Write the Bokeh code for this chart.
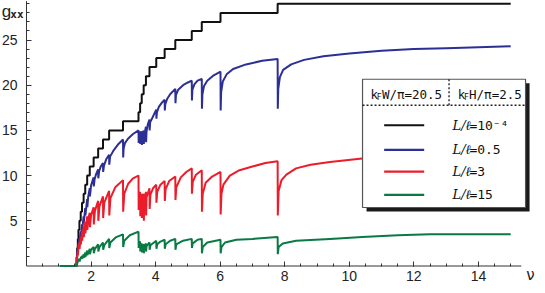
from bokeh.plotting import figure
from bokeh.models import FixedTicker, Label, Range1d
from bokeh.core.properties import value
from bokeh.embed import file_html
from bokeh.resources import INLINE

# ---------------- data ----------------
nu_black = [1.04, 1.55, 1.57, 1.59, 1.61, 1.64, 1.68, 1.72, 1.77, 1.82, 1.88,
            1.96, 2.08, 2.22, 2.37, 2.56, 2.99, 3.47, 3.52, 3.57, 3.63, 3.70,
            3.81, 4.02, 4.28, 4.61, 5.12, 5.43, 6.01, 7.78, 15.0]
g_black = [0, 1, 2, 3, 4, 5, 6, 7, 8, 9, 10,
           11, 12, 13, 14, 15, 16, 17, 18, 19, 20, 21,
           22, 23, 24, 25, 26, 27, 28, 29, 29]

nu_blue = [1.04, 1.55, 1.57, 1.59, 1.61, 1.615, 1.64, 1.645, 1.68, 1.685,
           1.72, 1.725, 1.77, 1.775, 1.82, 1.825, 1.88, 1.885, 1.91, 1.96,
           1.965, 2.00, 2.08, 2.085, 2.11, 2.16, 2.22, 2.225, 2.25, 2.30,
           2.37, 2.375, 2.40, 2.47, 2.56, 2.565, 2.59, 2.70, 2.85, 2.99,
           2.995, 3.01, 3.05, 3.15, 3.30, 3.47, 3.475, 3.49, 3.52, 3.525,
           3.54, 3.57, 3.575, 3.59, 3.63, 3.635, 3.65, 3.70, 3.705, 3.72,
           3.76, 3.81, 3.815, 3.83, 3.90, 4.02, 4.025, 4.04, 4.10, 4.20,
           4.28, 4.285, 4.30, 4.36, 4.45, 4.61, 4.615, 4.63, 4.70, 4.85,
           5.00, 5.12, 5.125, 5.14, 5.20, 5.30, 5.43, 5.435, 5.45, 5.50,
           5.60, 5.80, 6.01, 6.015, 6.03, 6.08, 6.20, 6.40, 6.80, 7.30,
           7.78, 7.785, 7.80, 7.85, 7.95, 8.20, 8.60, 9.20, 10.0, 11.0,
           12.0, 13.0, 14.0, 15.0]
g_blue = [0, 0, 1.3, 2.0, 2.6, 2.2, 3.1, 2.7, 3.8, 3.3,
          4.6, 4.0, 5.5, 4.8, 6.4, 5.6, 7.4, 6.5, 7.6, 8.6,
          7.7, 8.9, 9.8, 8.8, 9.6, 10.2, 10.7, 9.7, 10.5, 11.0,
          11.4, 10.4, 11.1, 11.8, 12.3, 11.2, 12.1, 12.8, 13.5, 14.0,
          12.0, 13.0, 13.6, 14.1, 14.6, 15.0, 13.6, 14.5, 14.9, 13.5,
          14.4, 14.9, 13.4, 14.4, 15.0, 13.5, 14.5, 15.4, 13.7, 14.9,
          15.7, 16.2, 15.0, 15.9, 16.4, 17.3, 16.3, 17.0, 17.6, 18.1,
          18.4, 17.2, 17.9, 18.5, 19.0, 19.6, 18.0, 18.9, 19.5, 20.0,
          20.3, 20.5, 18.3, 19.5, 20.1, 20.5, 20.7, 17.4, 19.0, 19.9,
          20.5, 21.1, 21.5, 17.2, 19.2, 20.4, 21.2, 21.8, 22.3, 22.7,
          22.9, 17.4, 19.6, 20.9, 21.7, 22.3, 22.8, 23.2, 23.5, 23.8,
          24.0, 24.1, 24.2, 24.3]

nu_red = [1.04, 1.55, 1.57, 1.59, 1.595, 1.61, 1.64, 1.645, 1.68, 1.685,
          1.72, 1.725, 1.77, 1.775, 1.82, 1.825, 1.88, 1.885, 1.92, 1.96,
          1.965, 2.00, 2.08, 2.085, 2.12, 2.22, 2.225, 2.26, 2.37, 2.375,
          2.41, 2.56, 2.565, 2.60, 2.75, 2.99, 2.995, 3.03, 3.15, 3.30,
          3.47, 3.475, 3.49, 3.52, 3.525, 3.54, 3.57, 3.575, 3.59, 3.63,
          3.635, 3.65, 3.70, 3.705, 3.72, 3.81, 3.815, 3.84, 3.92, 4.02,
          4.025, 4.05, 4.15, 4.28, 4.285, 4.31, 4.42, 4.61, 4.615, 4.64,
          4.78, 4.95, 5.12, 5.125, 5.15, 5.25, 5.43, 5.435, 5.46, 5.55,
          5.75, 6.01, 6.015, 6.04, 6.10, 6.30, 6.60, 7.00, 7.40, 7.78,
          7.785, 7.81, 7.90, 8.05, 8.35, 8.80, 9.40, 10.4, 11.5, 13.0,
          15.0]
g_red = [0, 0, 1.0, 1.6, 1.2, 2.0, 2.6, 1.9, 3.2, 2.4,
         3.8, 2.8, 4.4, 3.2, 4.9, 3.6, 5.5, 4.0, 5.3, 5.9,
         4.3, 5.6, 6.5, 4.6, 6.1, 7.2, 5.0, 6.6, 7.7, 5.3,
         7.0, 8.3, 5.6, 7.5, 8.7, 9.5, 6.0, 8.0, 9.1, 9.7,
         10.0, 6.2, 7.8, 8.2, 5.5, 7.5, 8.0, 5.3, 7.3, 8.0,
         5.0, 7.2, 8.2, 5.6, 7.6, 8.6, 6.3, 7.9, 8.6, 9.0,
         7.0, 8.2, 9.0, 9.4, 7.2, 8.5, 9.4, 9.9, 7.3, 8.7,
         9.8, 10.4, 10.8, 8.0, 9.3, 10.1, 10.6, 6.0, 8.0, 9.2,
         9.9, 10.4, 5.7, 8.0, 9.0, 10.0, 10.6, 11.0, 11.4, 11.6,
         5.6, 8.3, 9.5, 10.1, 10.8, 11.2, 11.5, 11.9, 12.2, 12.4,
         12.6]

nu_green = [1.04, 1.55, 1.58, 1.61, 1.64, 1.645, 1.68, 1.72, 1.725, 1.77,
            1.775, 1.82, 1.825, 1.88, 1.885, 1.96, 1.965, 2.00, 2.08, 2.085,
            2.12, 2.22, 2.225, 2.26, 2.37, 2.375, 2.41, 2.56, 2.565, 2.60,
            2.78, 2.99, 2.995, 3.03, 3.20, 3.47, 3.475, 3.49, 3.52, 3.525,
            3.54, 3.57, 3.575, 3.59, 3.63, 3.635, 3.65, 3.70, 3.705, 3.72,
            3.81, 3.815, 3.84, 4.02, 4.025, 4.05, 4.15, 4.28, 4.285, 4.31,
            4.45, 4.61, 4.615, 4.64, 4.85, 5.12, 5.125, 5.15, 5.30, 5.43,
            5.435, 5.46, 5.60, 6.01, 6.015, 6.04, 6.15, 6.50, 7.00, 7.78,
            7.785, 7.81, 7.94, 8.35, 9.40, 10.4, 11.5, 12.5, 15.0]
g_green = [0, 0, 0.4, 0.6, 0.8, 0.5, 0.9, 1.1, 0.8, 1.3,
           0.9, 1.5, 1.0, 1.7, 1.2, 1.9, 1.3, 1.8, 2.1, 1.4,
           1.9, 2.4, 1.6, 2.1, 2.6, 1.8, 2.3, 3.0, 2.0, 2.6,
           3.2, 3.5, 2.1, 2.8, 3.4, 3.8, 2.0, 2.6, 2.7, 1.6,
           2.3, 2.5, 1.5, 2.2, 2.4, 1.4, 2.2, 2.5, 1.6, 2.2,
           2.6, 1.8, 2.3, 2.8, 1.9, 2.4, 2.7, 2.9, 1.9, 2.4,
           2.8, 3.0, 1.8, 2.4, 2.8, 3.0, 2.0, 2.5, 2.9, 3.0,
           1.4, 2.1, 2.6, 2.9, 1.4, 2.1, 2.6, 2.9, 3.0, 3.2,
           1.3, 2.1, 2.5, 2.8, 3.0, 3.2, 3.4, 3.5, 3.5]

x_ticks = [2, 4, 6, 8, 10, 12, 14]
x_minor = [0.5 * i for i in range(1, 31)]
y_ticks = [5, 10, 15, 20, 25]
y_minor = list(range(1, 30))

legend_labels = ["=10\u207b\u2074", "=0.5", "=3", "=15"]
header_left = "W/\u03c0=20.5"
header_right = "H/\u03c0=2.5"

# ---------------- styles / layout ----------------
C_BLACK = "#111111"
C_BLUE = "#2c2f94"
C_RED = "#ec1c2a"
C_GREEN = "#0a7a44"
C_AXIS = "#333333"
LW = 2.0
MONO = "DejaVu Sans Mono"

# frame covers the whole canvas; axes sit at fixed data locations
X_START, X_END = -0.805, 15.83
Y_START, Y_END = -2.157, 29.37
X_AXIS_END = 15.33
Y_AXIS_TOP = 29.3

p = figure(width=537, height=285, output_backend="svg", toolbar_location=None,
           x_range=Range1d(X_START, X_END), y_range=Range1d(Y_START, Y_END),
           min_border=0, min_border_left=0, min_border_right=0,
           min_border_top=0, min_border_bottom=0)
p.outline_line_color = None
p.xgrid.visible = False
p.ygrid.visible = False

for ax in (p.xaxis[0], p.yaxis[0]):
    ax.fixed_location = 0
    ax.axis_line_color = None
    ax.major_tick_line_color = C_AXIS
    ax.minor_tick_line_color = C_AXIS
    ax.major_tick_in = 5
    ax.major_tick_out = 0
    ax.minor_tick_in = 3
    ax.minor_tick_out = 0
    ax.major_label_text_font = "Liberation Sans"
    ax.major_label_text_font_size = "14px"
    ax.major_label_text_color = "#222222"
p.xaxis.ticker = FixedTicker(ticks=x_ticks, minor_ticks=x_minor)
p.yaxis.ticker = FixedTicker(ticks=y_ticks, minor_ticks=y_minor)
p.xaxis.major_label_standoff = 5
p.yaxis.major_label_standoff = 9
p.segment(x0=[0, 0], y0=[0, 0], x1=[X_AXIS_END, 0], y1=[0, Y_AXIS_TOP],
          line_color=C_AXIS, line_width=1)

# curves
p.step(nu_black, g_black, mode="after", line_color=C_BLACK, line_width=LW)
p.line(nu_blue, g_blue, line_color=C_BLUE, line_width=LW)
p.line(nu_red, g_red, line_color=C_RED, line_width=LW)
p.line(nu_green, g_green, line_color=C_GREEN, line_width=LW)

# legend box
L, R, T, B = 10.41, 15.46, 20.66, 6.47
SDX, SDY = 0.124, 0.44
p.quad(left=[L + SDX], right=[R + SDX], top=[T - SDY], bottom=[B - SDY],
       fill_color="#1a1a1a", line_color=None)
p.quad(left=[L], right=[R], top=[T], bottom=[B], fill_color="white",
       line_color="#555555", line_width=1.2)
HY = 17.78
SEPX = 13.09
p.line([L, R], [HY, HY], line_color="#222222", line_width=1.4, line_dash="2 2")
p.line([SEPX, SEPX], [T, HY], line_color="#222222", line_width=1.4, line_dash="2 2")

HTY = 19.0
p.text(x=[10.66, 13.36], y=[HTY, HTY], text=["k", "k"], text_font=value(MONO),
       text_font_size="12.5px", text_baseline="middle", text_align="left",
       text_color="#111111")
p.text(x=[10.85, 13.55], y=[HTY - 0.35, HTY - 0.35], text=["F", "F"],
       text_font=value(MONO), text_font_size="8px", text_baseline="middle",
       text_align="left", text_color="#111111")
p.text(x=[11.01, 13.71], y=[HTY, HTY], text=[header_left, header_right],
       text_font=value(MONO), text_font_size="12.5px", text_baseline="middle",
       text_align="left", text_color="#111111")

rows = [15.57, 12.85, 10.45, 7.87]
colors = [C_BLACK, C_BLUE, C_RED, C_GREEN]
for ry, c, lab in zip(rows, colors, legend_labels):
    p.line([11.08, 12.32], [ry, ry], line_color=c, line_width=2.2)
    p.text(x=[13.20], y=[ry], text=["L/\u2113"], text_font=value("DejaVu Serif"),
           text_font_style="italic", text_font_size="13px", text_baseline="middle",
           text_align="left", text_color="#111111")
    p.text(x=[13.72], y=[ry], text=[lab], text_font=value(MONO),
           text_font_size="13px", text_baseline="middle", text_align="left",
           text_color="#111111")

# axis titles
p.add_layout(Label(x=-0.77, y=28.15, text="g", text_font="Liberation Sans",
                   text_font_size="17px", text_baseline="alphabetic",
                   text_color="#222222"))
p.add_layout(Label(x=-0.50, y=27.82, text="xx", text_font=MONO,
                   text_font_style="bold", text_font_size="11px",
                   text_baseline="alphabetic", text_color="#222222"))
p.add_layout(Label(x=15.61, y=-1.05, text="\u03bd", text_font="DejaVu Sans",
                   text_font_size="15px", text_baseline="middle",
                   text_align="center", text_color="#222222"))

open("out.html", "w").write(file_html(p, INLINE))
